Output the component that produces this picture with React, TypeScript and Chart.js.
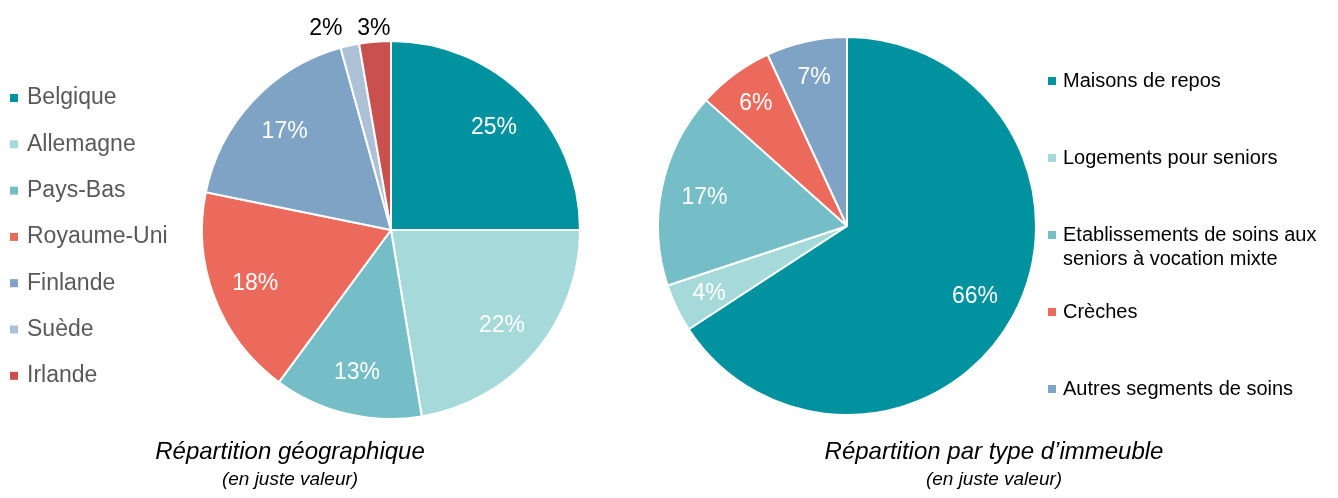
import React, { useEffect, useRef } from "react";
import { Chart, registerables } from "chart.js";

Chart.register(...registerables);

// ---- Data: geographic split ----
const geoLabels = ["Belgique", "Allemagne", "Pays-Bas", "Royaume-Uni", "Finlande", "Suède", "Irlande"];
const geoValues = [25, 22.4, 12.7, 18.1, 17.5, 1.6, 2.7];
const geoPctLabels = ["25%", "22%", "13%", "18%", "17%", "2%", "3%"];
const geoColors = ["#00929f", "#a6d9d9", "#75bec8", "#ec6a5c", "#7fa3c4", "#adc1d6", "#c9504f"];

// ---- Data: building type split ----
const typeLabels = [
  "Maisons de repos",
  "Logements pour seniors",
  "Etablissements de soins aux seniors à vocation mixte",
  "Crèches",
  "Autres segments de soins",
];
const typeValues = [65.8, 4.1, 16.7, 6.5, 6.9];
const typePctLabels = ["66%", "4%", "17%", "6%", "7%"];
const typeColors = ["#00929f", "#a6d9d9", "#75bec8", "#ec6a5c", "#7fa3c4"];

const FONT = '"Liberation Sans", Arial, Helvetica, sans-serif';

function wrapText(ctx: CanvasRenderingContext2D, text: string, maxWidth: number): string[] {
  const words = text.split(" ");
  const lines: string[] = [];
  let cur = "";
  for (const w of words) {
    const test = cur ? cur + " " + w : w;
    if (ctx.measureText(test).width > maxWidth && cur) {
      lines.push(cur);
      cur = w;
    } else {
      cur = test;
    }
  }
  if (cur) lines.push(cur);
  return lines;
}

const decorPlugin = {
  id: "decor",
  afterDraw(chart: any, _args: any, opts: any) {
    const ctx: CanvasRenderingContext2D = chart.ctx;
    const meta = chart.getDatasetMeta(0);
    const ds = chart.data.datasets[0];
    const values: number[] = ds.data;
    const colors: string[] = ds.backgroundColor;
    const labels: string[] = chart.data.labels;

    ctx.save();
    // percentage labels
    ctx.textAlign = "center";
    ctx.textBaseline = "middle";
    ctx.font = `${opts.pctFontSize}px ${FONT}`;
    const outside: { x: number; y: number; text: string }[] = [];
    meta.data.forEach((arc: any, i: number) => {
      const p = arc.getProps(["x", "y", "startAngle", "endAngle", "outerRadius"], true);
      const mid = (p.startAngle + p.endAngle) / 2;
      const v = values[i];
      const text = opts.pctLabels[i];
      if (v < 3.5) {
        const d = p.outerRadius + 14;
        outside.push({ x: p.x + Math.cos(mid) * d, y: p.y + Math.sin(mid) * d, text });
      } else {
        const f = v < 10 ? 0.81 : 0.77;
        ctx.fillStyle = "#ffffff";
        ctx.fillText(text, p.x + Math.cos(mid) * p.outerRadius * f, p.y + Math.sin(mid) * p.outerRadius * f + 1);
      }
    });
    if (outside.length) {
      for (let i = outside.length - 2; i >= 0; i--) {
        const gap = 48;
        if (outside[i + 1].x - outside[i].x < gap) outside[i].x = outside[i + 1].x - gap;
      }
      const minY = Math.min(...outside.map((o) => o.y));
      ctx.fillStyle = "#000000";
      outside.forEach((o) => ctx.fillText(o.text, o.x, minY + 1));
    }

    // legend
    const lg = opts.legend;
    ctx.font = `${lg.fontSize}px ${FONT}`;
    ctx.textAlign = "left";
    ctx.textBaseline = "middle";
    labels.forEach((lab, i) => {
      const cy = lg.y0 + lg.step * i;
      ctx.fillStyle = colors[i];
      ctx.fillRect(lg.x, cy - lg.box / 2, lg.box, lg.box);
      ctx.fillStyle = lg.color;
      const lines = wrapText(ctx, lab, lg.maxWidth);
      lines.forEach((ln, k) => ctx.fillText(ln, lg.textX, cy + k * lg.lineHeight));
    });

    // titles
    const t = opts.title;
    ctx.textAlign = "center";
    ctx.textBaseline = "alphabetic";
    ctx.fillStyle = "#000000";
    ctx.font = `italic ${t.size1}px ${FONT}`;
    ctx.fillText(t.text, t.x, t.y1);
    ctx.font = `italic ${t.size2}px ${FONT}`;
    ctx.fillText(t.sub, t.x, t.y2);
    ctx.restore();
  },
};

type PieProps = {
  left: number;
  width: number;
  labels: string[];
  values: number[];
  colors: string[];
  pctLabels: string[];
  padding: { left: number; right: number; top: number; bottom: number };
  legend: any;
  title: any;
};

function PieCanvas(props: PieProps) {
  const ref = useRef<HTMLCanvasElement>(null);
  useEffect(() => {
    if (!ref.current) return;
    const chart = new Chart(ref.current, {
      type: "pie",
      data: {
        labels: props.labels,
        datasets: [
          {
            data: props.values,
            backgroundColor: props.colors,
            borderColor: "#ffffff",
            borderWidth: 2,
          },
        ],
      },
      options: {
        responsive: false,
        animation: false,
        layout: { padding: props.padding },
        plugins: {
          legend: { display: false },
          tooltip: { enabled: false },
          decor: {
            pctLabels: props.pctLabels,
            pctFontSize: 23,
            legend: props.legend,
            title: props.title,
          },
        } as any,
      },
      plugins: [decorPlugin as any],
    });
    return () => chart.destroy();
  }, []);
  return (
    <canvas
      ref={ref}
      width={props.width}
      height={498}
      style={{ position: "absolute", left: props.left, top: 0, width: props.width, height: 498 }}
    />
  );
}

export default function App() {
  return (
    <div style={{ position: "absolute", left: 0, top: 0, width: 1338, height: 498, background: "#fff", overflow: "hidden" }}>
      <PieCanvas
        left={0}
        width={620}
        labels={geoLabels}
        values={geoValues}
        colors={geoColors}
        pctLabels={geoPctLabels}
        padding={{ left: 201, right: 39, top: 40, bottom: 78 }}
        legend={{ x: 10, textX: 27, y0: 98, step: 46.3, box: 8, fontSize: 23, color: "#595959", maxWidth: 400, lineHeight: 26 }}
        title={{ x: 290, text: "Répartition géographique", sub: "(en juste valeur)", y1: 459, y2: 485, size1: 24, size2: 19 }}
      />
      <PieCanvas
        left={620}
        width={718}
        labels={typeLabels}
        values={typeValues}
        colors={typeColors}
        pctLabels={typePctLabels}
        padding={{ left: 37, right: 301, top: 36, bottom: 82 }}
        legend={{ x: 428, textX: 443, y0: 81, step: 77, box: 8, fontSize: 20, color: "#000000", maxWidth: 272, lineHeight: 24 }}
        title={{ x: 374, text: "Répartition par type d’immeuble", sub: "(en juste valeur)", y1: 459, y2: 485, size1: 24, size2: 19 }}
      />
    </div>
  );
}
